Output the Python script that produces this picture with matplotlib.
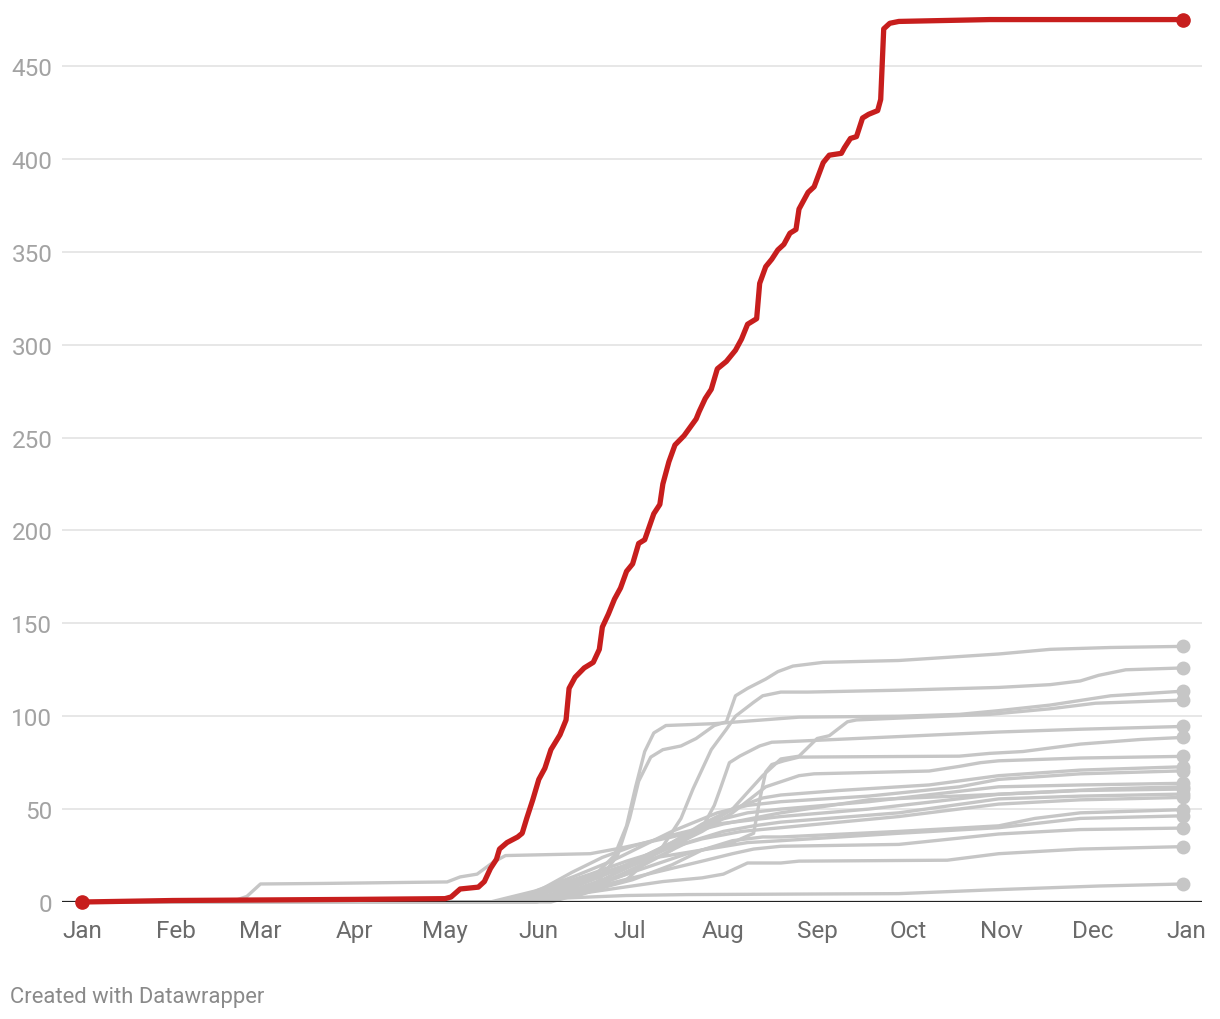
import matplotlib
matplotlib.use("Agg")
import matplotlib.pyplot as plt

plt.rcParams['font.family'] = ['Roboto', 'DejaVu Sans']

RED = '#c71e1d'
GRAY = '#c6c6c6'

# day of year (0 = Jan 1) and cumulative value
red_days = [0, 30, 90, 120, 122, 125, 131, 133, 135, 137, 138, 140.5, 144, 145.5, 147, 148, 149, 151,
            153, 155, 158, 160, 161, 163, 166, 169, 171, 172, 174, 176, 178, 180, 182, 184, 186, 189,
            191, 192, 194, 196, 199, 203, 204, 206, 208, 210, 213, 216, 218, 220, 223, 224, 226, 228,
            230, 232, 234, 236, 237, 240, 242, 245, 247, 251, 252, 254, 256, 258, 260, 263, 264, 265,
            267, 270, 300, 364]
red_vals = [0, 0.8, 1.4, 1.8, 2.7, 7, 8, 11, 18, 23, 28.5, 32, 35, 37, 45, 50, 55, 66,
            72, 82, 90, 98, 115, 121, 126, 129, 136, 148, 155, 163, 169, 178, 182, 193, 195, 209,
            214, 225, 237, 246, 251, 260, 264, 271, 276, 287, 291, 297, 303, 311, 314, 333, 342, 346,
            351, 354, 360, 362, 373, 382, 385, 398, 402, 403, 406, 411, 412, 422, 424, 426, 432, 470,
            473, 474, 475, 475]

gray_days = [
    [0, 145, 158, 170, 177, 181, 184, 188, 192, 198, 203, 209, 213, 216, 220, 226, 230, 235, 245, 270, 303, 320, 340, 364],
    [0, 150, 165, 180, 192, 198, 202, 208, 213, 216, 222, 225, 231, 240, 270, 303, 320, 330, 336, 345, 364],
    [0, 140, 155, 168, 176, 180, 183, 186, 189, 193, 209, 237, 270, 290, 303, 320, 340, 364],
    [0, 145, 160, 172, 185, 200, 215, 225, 231, 237, 243, 247, 253, 256, 270, 300, 320, 335, 364],
    [0, 150, 165, 180, 195, 205, 209, 211, 214, 217.5, 224, 228, 237, 303, 330, 364],
    [0, 148, 165, 180, 200, 215, 222, 224, 226, 228, 232, 237, 290, 300, 311, 330, 350, 364],
    [0, 142, 158, 175, 190, 205, 215, 226, 237, 242, 280, 290, 297, 303, 330, 364],
    [0, 138, 152, 165, 180, 195, 205, 215, 225, 231, 250, 280, 303, 330, 364],
    [0, 135, 150, 163, 175, 185, 195, 210, 220, 231, 260, 290, 303, 330, 364],
    [0, 145, 158, 172, 185, 200, 210, 220, 231, 260, 303, 330, 364],
    [0, 140, 152, 162, 172, 182, 195, 210, 231, 260, 303, 330, 364],
    [0, 150, 163, 177, 190, 200, 212, 222, 231, 270, 303, 330, 364],
    [0, 143, 155, 168, 180, 192, 205, 218, 231, 270, 303, 330, 364],
    [0, 155, 168, 182, 195, 205, 215, 225, 231, 270, 303, 315, 330, 364],
    [0, 138, 152, 165, 178, 190, 205, 220, 231, 270, 303, 330, 364],
    [0, 145, 158, 172, 187, 205, 215, 222, 231, 270, 303, 330, 364],
    [0, 140, 158, 175, 192, 205, 212, 220, 231, 237, 286, 303, 330, 364],
    [0, 135, 150, 165, 180, 200, 270, 300, 336, 364],
    [0, 50, 54.5, 59, 80, 120.7, 125, 130.6, 136, 140, 168, 178, 195, 212, 231, 260, 303, 340, 364],
]
gray_vals = [
    [0, 0, 3, 10, 25, 45, 65, 78, 82, 84, 88, 95, 97, 111, 115, 120, 124, 127, 129, 130, 133.5, 136, 137, 137.6],
    [0, 0, 4, 12, 30, 45, 61, 82, 93, 100, 107.5, 111, 113, 113, 114, 115.5, 117, 119, 122, 125, 126],
    [0, 0, 4, 12, 25, 41, 62, 81, 91, 95, 96, 99.5, 100, 101, 103, 106, 111, 113.5],
    [0, 0, 5, 12, 22, 35, 50, 68, 77, 78.5, 88, 89.5, 97, 98, 99, 101, 104, 107, 108.7],
    [0, 0, 6, 15, 28, 40, 52, 61, 75, 78.6, 84, 86, 86.6, 91.5, 93, 94.5],
    [0, 0, 6, 15, 26, 32, 37, 55, 70, 74, 76, 78, 78.5, 80, 81, 85, 87.5, 88.6],
    [0, 0, 7, 16, 26, 38, 48, 62, 68, 69, 70.5, 73, 75, 76, 77.5, 78.4],
    [0, 0, 5, 12, 20, 32, 42, 50, 56, 57.6, 60, 63, 68, 71, 72.8],
    [0, 0, 6, 14, 22, 30, 38, 48, 52, 54, 57, 62, 66, 69, 70.6],
    [0, 0, 5, 14, 24, 36, 44, 48, 50, 54, 62, 63, 63.9],
    [0, 0, 7, 16, 24, 30, 36, 42, 46, 50, 58, 60, 60.8],
    [0, 0, 5, 14, 24, 32, 38, 41, 43, 48, 55.5, 57, 58.1],
    [0, 0, 8, 15, 22, 28, 34, 38, 40, 46, 52.7, 55, 56.3],
    [0, 0, 6, 12, 20, 28, 33, 35, 35, 38, 41, 45, 48, 49.7],
    [0, 0, 6, 12, 18, 24, 28, 32, 33, 37, 40, 45, 46.4],
    [0, 0, 4, 9, 15, 22, 26, 28.5, 30, 31, 36.6, 39, 39.8],
    [0, 0, 3, 7, 11, 13, 15, 21, 21, 22, 22.5, 26, 28.5, 29.8],
    [0, 0, 1.5, 2.5, 3.5, 4, 4.5, 6.5, 8.6, 9.7],
    [0, 0.5, 3, 9.7, 10, 10.8, 13.5, 15, 21.5, 25, 26, 29, 35, 42, 48, 55, 58, 61, 62],
]

month_days = [0, 31, 59, 90, 120, 151, 181, 212, 243, 273, 304, 334, 365]
month_labels = ['Jan', 'Feb', 'Mar', 'Apr', 'May', 'Jun', 'Jul', 'Aug', 'Sep', 'Oct', 'Nov', 'Dec', 'Jan']
y_ticks = [0, 50, 100, 150, 200, 250, 300, 350, 400, 450]

fig = plt.figure(figsize=(12.2, 10.2), dpi=100)
ax = fig.add_axes([62 / 1220, 1 - 903 / 1020, 1140 / 1220, 888 / 1020])

for d, v in zip(gray_days, gray_vals):
    ax.plot(d, v, color=GRAY, lw=2.4, solid_capstyle='round', solid_joinstyle='round', zorder=2, clip_on=False)
    ax.plot(d[-1], v[-1], 'o', color=GRAY, ms=9, zorder=2, clip_on=False)

ax.axhline(0, color='#222222', lw=1.6, zorder=3)

ax.plot(red_days, red_vals, color=RED, lw=3.8, solid_capstyle='round', solid_joinstyle='round', zorder=4, clip_on=False)
ax.plot([red_days[0], red_days[-1]], [red_vals[0], red_vals[-1]], 'o', color=RED, ms=9.5, zorder=5, clip_on=False)

ax.set_xlim(-6.6, 370.2)
ax.set_ylim(0, 478)
ax.set_yticks(y_ticks)
ax.set_yticklabels([str(t) for t in y_ticks])
ax.set_xticks(month_days)
ax.set_xticklabels(month_labels)
ax.grid(axis='y', color='#e3e3e3', lw=1.2, zorder=0)
ax.set_axisbelow(True)
for s in ax.spines.values():
    s.set_visible(False)
ax.tick_params(axis='y', length=0, pad=7, labelsize=17.5, labelcolor='#a3a3a3')
ax.tick_params(axis='x', length=0, pad=12, labelsize=17.5, labelcolor='#6b6b6b')

fig.text(10 / 1220, 1 - 998 / 1020, 'Created with Datawrapper', fontsize=15.8, color='#8a8a8a', va='center', ha='left')

fig.savefig('out.png', dpi=100)
